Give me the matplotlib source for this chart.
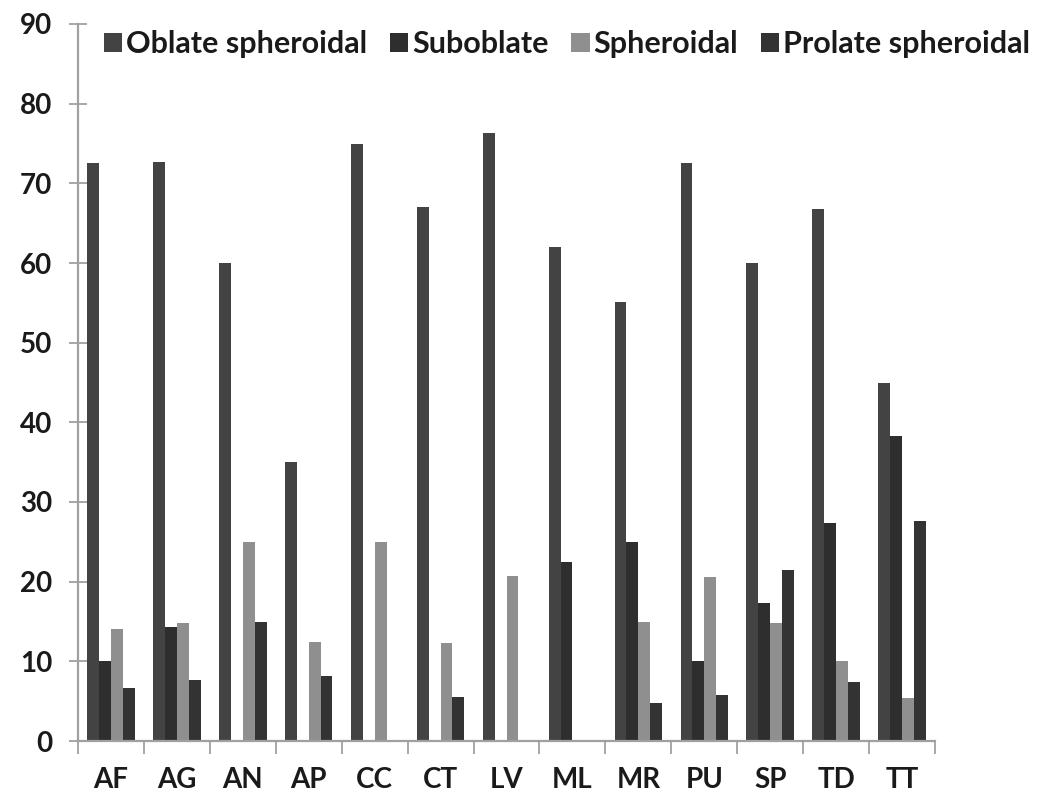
import matplotlib
matplotlib.use("Agg")
import matplotlib.pyplot as plt
import numpy as np

categories = ["AF", "AG", "AN", "AP", "CC", "CT", "LV", "ML", "MR", "PU", "SP", "TD", "TT"]
oblate = [72.5, 72.7, 60, 35, 75, 67, 76.3, 62, 55.1, 72.5, 60, 66.8, 45]
suboblate = [10, 14.3, 0, 0, 0, 0, 0, 22.5, 25, 10, 17.3, 27.4, 38.3]
spheroidal = [14, 14.8, 25, 12.4, 25, 12.3, 20.7, 0, 15, 20.6, 14.8, 10, 5.4]
prolate = [6.6, 7.6, 15, 8.1, 0, 5.5, 0, 0, 4.8, 5.8, 21.5, 7.4, 27.6]
series_names = ["Oblate spheroidal", "Suboblate", "Spheroidal", "Prolate spheroidal"]
yticks = [0, 10, 20, 30, 40, 50, 60, 70, 80, 90]

colors = ["#434343", "#2e2e2e", "#8f8f8f", "#333333"]

plt.rcParams['font.family'] = ['Lato', 'DejaVu Sans']
fig = plt.figure(figsize=(10.45, 8), dpi=100)
ax = fig.add_axes([78/1045, 59/800, 857/1045, 717/800])

x = np.arange(len(categories))
w = 0.18
data = [oblate, suboblate, spheroidal, prolate]
handles = []
for i, (vals, c, name) in enumerate(zip(data, colors, series_names)):
    h = ax.bar(x + (i - 1.5) * w, vals, width=w, color=c, label=name, zorder=2)
    handles.append(h)

ax.set_xlim(-0.5, len(categories) - 0.5)
ax.set_ylim(0, 90)
ax.set_yticks(yticks)
ax.set_xticks(x)
ax.set_xticklabels(categories)
ax.set_xticks(np.arange(-0.5, len(categories)), minor=True)
ax.tick_params(axis='x', which='major', length=0, pad=19, labelsize=20, labelcolor="#1a1a1a")
ax.tick_params(axis='x', which='minor', length=9, direction='out', color="#a0a0a0", width=1.3)
ax.tick_params(axis='y', length=13, direction='inout', color="#a0a0a0", width=1.3, labelsize=20,
               labelcolor="#1a1a1a", pad=12)
for lab in ax.get_xticklabels() + ax.get_yticklabels():
    lab.set_fontweight('bold')
for s in ["top", "right"]:
    ax.spines[s].set_visible(False)
for s in ["left", "bottom"]:
    ax.spines[s].set_color("#a0a0a0")
    ax.spines[s].set_linewidth(1.6)

fig.legend(handles, series_names, loc='center left', bbox_to_anchor=(104/1045, 1 - 44/800),
           ncol=4, frameon=False, handlelength=0.6, handleheight=0.6, handletextpad=0.12,
           columnspacing=0.75, prop={'family': ['Lato', 'DejaVu Sans'], 'weight': 'bold', 'size': 22},
           labelcolor="#1a1a1a", borderaxespad=0, borderpad=0)

fig.savefig("out.png", dpi=100)
